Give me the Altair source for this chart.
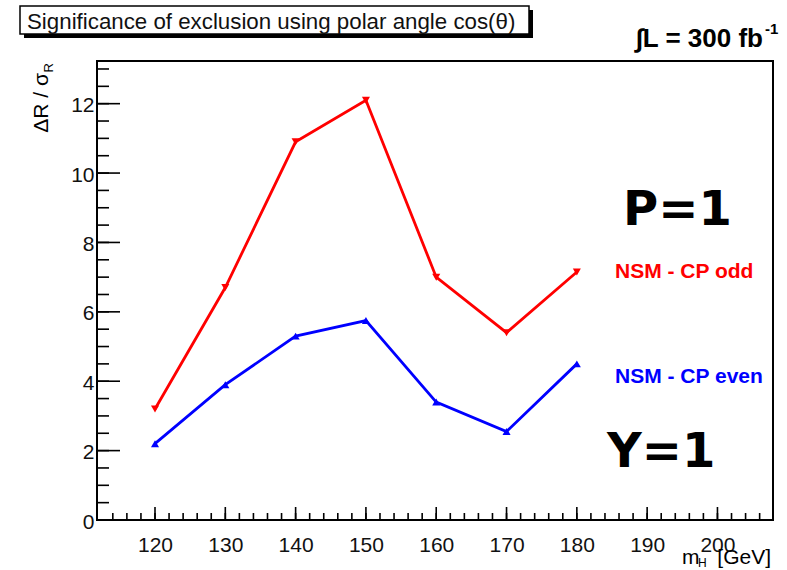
import altair as alt
import pandas as pd

# ---------------- data ----------------
masses = [120, 130, 140, 150, 160, 170, 180]
cp_odd = [3.2, 6.7, 10.9, 12.1, 7.0, 5.4, 7.15]
cp_even = [2.2, 3.9, 5.3, 5.75, 3.4, 2.55, 4.5]

x_labels = [120, 130, 140, 150, 160, 170, 180, 190, 200]
x_minor = list(range(114, 208, 2))
y_labels = [0, 2, 4, 6, 8, 10, 12]
y_minor = [v / 2 for v in range(1, 27)]

X_DOMAIN = [111.75, 207.9]
Y_DOMAIN = [0, 13.23]
W, H = 676, 459
FONT = "Liberation Sans"

odd_df = pd.DataFrame({"m": masses, "v": cp_odd})
even_df = pd.DataFrame({"m": masses, "v": cp_even})


def xe(field="m"):
    return alt.X(f"{field}:Q",
                 scale=alt.Scale(domain=X_DOMAIN, nice=False, zero=False),
                 axis=alt.Axis(values=x_labels, title=None, grid=False, ticks=False,
                               domain=False, labelFontSize=21, labelFont=FONT,
                               labelColor="#111", labelPadding=14, labelFlush=False))


def ye(field="v"):
    return alt.Y(f"{field}:Q",
                 scale=alt.Scale(domain=Y_DOMAIN, nice=False, zero=False),
                 axis=alt.Axis(values=y_labels, title=None, grid=False, ticks=False,
                               domain=False, labelFontSize=21, labelFont=FONT,
                               labelColor="#111", labelPadding=3, labelOffset=2))


layers = []

# inward ticks
layers.append(alt.Chart(pd.DataFrame({"m": x_minor})).mark_rule(color="black", strokeWidth=1.6)
              .encode(x=xe("m"), y=alt.value(H), y2=alt.value(H - 7)))
layers.append(alt.Chart(pd.DataFrame({"m": x_labels})).mark_rule(color="black", strokeWidth=1.6)
              .encode(x=xe("m"), y=alt.value(H), y2=alt.value(H - 13)))
layers.append(alt.Chart(pd.DataFrame({"v": y_minor})).mark_rule(color="black", strokeWidth=1.6)
              .encode(y=ye("v"), x=alt.value(0), x2=alt.value(12)))
layers.append(alt.Chart(pd.DataFrame({"v": y_labels})).mark_rule(color="black", strokeWidth=1.6)
              .encode(y=ye("v"), x=alt.value(0), x2=alt.value(23)))

# series
for df, col, shape in [(odd_df, "#ff0000", "triangle-down"), (even_df, "#0000ff", "triangle-up")]:
    layers.append(alt.Chart(df).mark_line(color=col, strokeWidth=2.8).encode(x=xe(), y=ye()))
    layers.append(alt.Chart(df).mark_point(color=col, filled=True, shape=shape, size=65, opacity=1)
                  .encode(x=xe(), y=ye()))

one = pd.DataFrame({"t": [""]})

# title box with shadow
layers.append(alt.Chart(one).mark_rect(color="black")
              .encode(x=alt.value(-73), x2=alt.value(436), y=alt.value(-51), y2=alt.value(-23)))
layers.append(alt.Chart(one).mark_rect(fill="white", stroke="black", strokeWidth=1.5)
              .encode(x=alt.value(-77), x2=alt.value(432), y=alt.value(-55), y2=alt.value(-27)))


def txt(s, x, y, size, color="black", align="left", weight="normal", font=FONT, angle=0, baseline="alphabetic"):
    return (alt.Chart(pd.DataFrame({"t": [s]}))
            .mark_text(align=align, baseline=baseline, fontSize=size, font=font, fontWeight=weight,
                       color=color, angle=angle)
            .encode(text="t:N", x=alt.value(x), y=alt.value(y)))


layers.append(txt("Significance of exclusion using polar angle cos(\u03b8)", -70, -32, 22.3, color="#111"))
layers.append(txt("\u222bL = 300 fb", 666, -14, 26, weight="bold", align="right"))
layers.append(txt("-1", 668, -27, 15, weight="bold"))
layers.append(txt("P=1", 526, 164, 48, weight="bold", font="DejaVu Sans"))
layers.append(txt("Y=1", 510, 406, 48, weight="bold", font="DejaVu Sans"))
layers.append(txt("NSM - CP odd", 518, 217, 21, color="#ff0000", weight="bold"))
layers.append(txt("NSM - CP even", 518, 322, 21, color="#0000ff", weight="bold"))
# y title
layers.append(txt("\u0394R / \u03c3", -49, 12, 21, angle=270, align="right"))
layers.append(txt("R", -44, 2, 13, angle=270, align="right"))
# x title
layers.append(txt("m", 585, 503, 21))
layers.append(txt("H", 601, 506, 12))
layers.append(txt("[GeV]", 674, 503, 21, align="right"))

chart = (alt.layer(*layers)
         .properties(width=W, height=H,
                     autosize=alt.AutoSizeParams(type="none"),
                     padding={"left": 97, "top": 61, "right": 14, "bottom": 50},
                     background="white")
         .configure_view(stroke="black", strokeWidth=2))

chart.save("out.html", embed_options={"renderer": "svg", "actions": False})
